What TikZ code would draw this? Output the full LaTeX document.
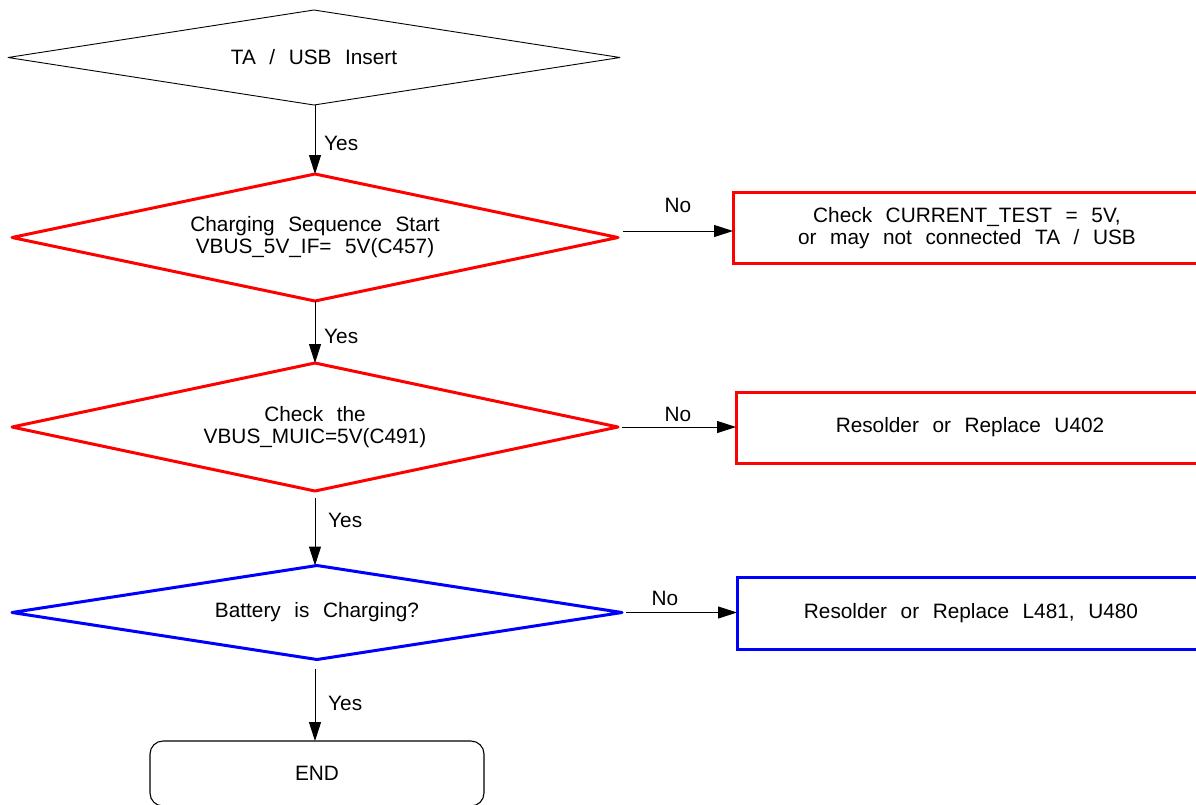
\documentclass[tikz,border=0pt]{standalone}
\usepackage{fontspec}
\setmainfont{Liberation Sans}[WordSpace=2.35]
\usetikzlibrary{shapes.geometric,arrows.meta}
\begin{document}
\begin{tikzpicture}[x=1pt,y=-1pt,
  every node/.style={font=\fontsize{20.8}{22}\selectfont},
  dec/.style={draw, diamond, inner sep=0pt, outer sep=0pt, align=center, line join=round},
  blackd/.style={dec, draw=black, line width=0.9pt},
  redd/.style={dec, draw=red, line width=3pt},
  blued/.style={dec, draw=blue, line width=3pt},
  actbox/.style={draw, rectangle, inner sep=0pt, outer sep=0pt, align=center, line width=3pt, minimum width=468pt},
  endbox/.style={draw, rectangle, rounded corners=13pt, inner sep=0pt, outer sep=0pt, line width=1.1pt},
  arr/.style={-{Triangle[length=19pt,width=12pt]}, line width=1pt},
  lab/.style={inner sep=0pt}]
\useasboundingbox (0,0) rectangle (1196,804);
\clip (0,0) rectangle (1196,804);

% decisions
\node[blackd, shape aspect=6, minimum width=612pt, minimum height=95pt] (d1) at (314,57.5) {TA / USB Insert};
\node[redd, shape aspect=4.8, minimum width=606pt, minimum height=127pt] (d2) at (315,237.5) {Charging Sequence Start\\VBUS\_5V\_IF= 5V(C457)};
\node[redd, shape aspect=4.8, minimum width=606pt, minimum height=128pt] (d3) at (315,427) {Check the\\VBUS\_MUIC=5V(C491)};
\node[blued, shape aspect=6.5, minimum width=610pt, minimum height=94pt] (d4) at (317,612.5) {Battery is Charging?};

% actions
\node[actbox, draw=red, minimum height=71pt] (b1) at (967,228) {Check CURRENT\_TEST = 5V,\\or may not connected TA / USB};
\node[actbox, draw=red, minimum height=71pt] (b2) at (970,427.5) {Resolder or Replace U402};
\node[actbox, draw=blue, minimum height=72pt] (b3) at (971,613) {Resolder or Replace L481, U480};
\node[endbox, minimum width=334pt, minimum height=65pt] (e) at (317,773.5) {END};

% vertical connectors
\draw[arr] (d2.north |- d1.south) -- (d2.north);
\draw[arr] (d2.south) -- (d3.north);
\draw[arr, shorten <=7pt] (d3.south) -- (d3.south |- d4.north);
\draw[arr, shorten <=9pt] (d3.south |- d4.south) -- (d3.south |- e.north);

% horizontal connectors
\draw[arr] ([shift={(5pt,6.5pt)}]d2.east) -- ([yshift=-3pt]b1.west);
\draw[arr] ([xshift=4pt]d3.east) -- (d3.east -| b2.west);
\draw[arr] ([xshift=4pt]d4.east) -- (d4.east -| b3.west);

% labels
\node[lab, anchor=west] (y1) at (324,143) {Yes};
\node[lab, anchor=west] (y2) at (324,336) {Yes};
\node[lab, anchor=west] (y3) at (328,520) {Yes};
\node[lab, anchor=west] (y4) at (328,703) {Yes};
\node[lab] (n1) at (678,205) {No};
\node[lab] (n2) at (678,414) {No};
\node[lab] (n3) at (665,598) {No};
\end{tikzpicture}
\end{document}
